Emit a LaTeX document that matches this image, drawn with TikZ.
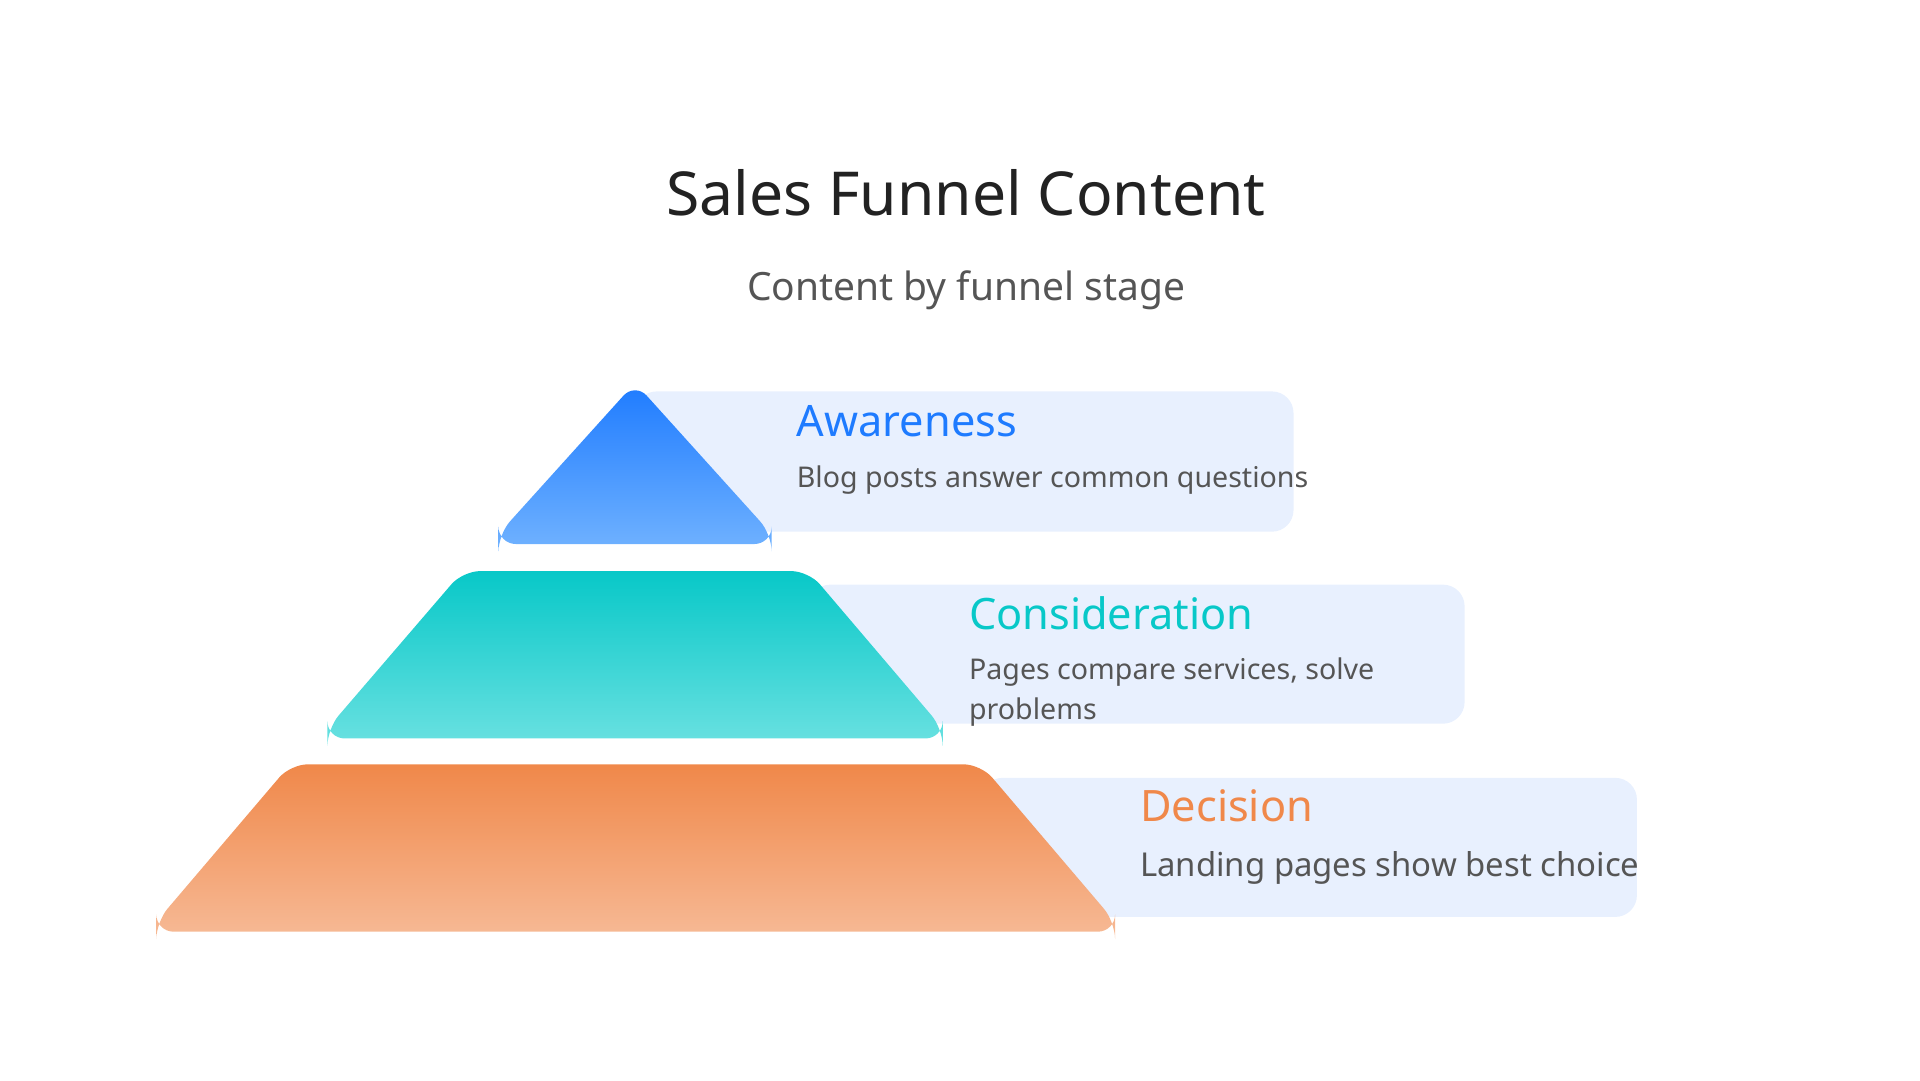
\documentclass[tikz,border=0pt]{standalone}
\usepackage{fontspec}
\setmainfont{Noto Sans}
\usetikzlibrary{positioning}
\definecolor{bluetop}{HTML}{1E7BFF}
\definecolor{bluebot}{HTML}{6DB0FF}
\definecolor{tealtop}{HTML}{08C8C8}
\definecolor{tealbot}{HTML}{66E0E0}
\definecolor{orgtop}{HTML}{F0884A}
\definecolor{orgbot}{HTML}{F6B893}
\definecolor{boxfill}{HTML}{E8F0FE}
\definecolor{txtgray}{HTML}{555555}
\tikzset{
  stagebox/.style={fill=boxfill, rounded corners=5pt},
  stagetitle/.style={anchor=west, font=\fontsize{10}{12}\selectfont\bfseries},
  stagetext/.style={anchor=west, text=txtgray, font=\fontsize{6.6}{9.2}\selectfont, align=left}
}
\begin{document}
\begin{tikzpicture}[x=0.01cm, y=-0.01cm]
        \useasboundingbox (0,0) rectangle (1560,878);
        \node (title) at (785,157) {\fontsize{14}{16}\selectfont \color[HTML]{222222}Sales Funnel Content};
        \node (subtitle) at (785,236) {\fontsize{9}{11}\selectfont \color{txtgray}Content by funnel stage};

        % Awareness
        \fill[stagebox] (516,318) rectangle (1051,432);
        \shade[top color=bluetop, bottom color=bluebot, rounded corners=4pt] (516,311) -- (627,434) -- (627,442) -- (405,442) -- (405,434) -- cycle;
        \node[stagetitle, text=bluetop] (aw_t) at (635,342) {Awareness};
        \node[stagetext] (aw_d) at (635,390) {Blog posts answer common questions};

        % Consideration
        \fill[stagebox] (657,475) rectangle (1190,588);
        \shade[top color=tealtop, bottom color=tealbot, rounded corners=4pt] (376,464) -- (657,464) -- (766,592) -- (766,600) -- (266,600) -- (266,592) -- cycle;
        \node[stagetitle, text=tealtop] (co_t) at (775,498) {Consideration};
        \node[stagetext] (co_d) at (775,562) {Pages compare services, solve\\problems};

        % Decision
        \fill[stagebox] (797,632) rectangle (1330,745);
        \shade[top color=orgtop, bottom color=orgbot, rounded corners=4pt] (236,621) -- (797,621) -- (906,749) -- (906,757) -- (127,757) -- (127,749) -- cycle;
        \node[stagetitle, text=orgtop] (de_t) at (914,655) {Decision};
        \node[stagetext, font=\fontsize{7.6}{9}\selectfont] (de_d) at (914,705) {Landing pages show best choice};
    \end{tikzpicture}
\end{document}
